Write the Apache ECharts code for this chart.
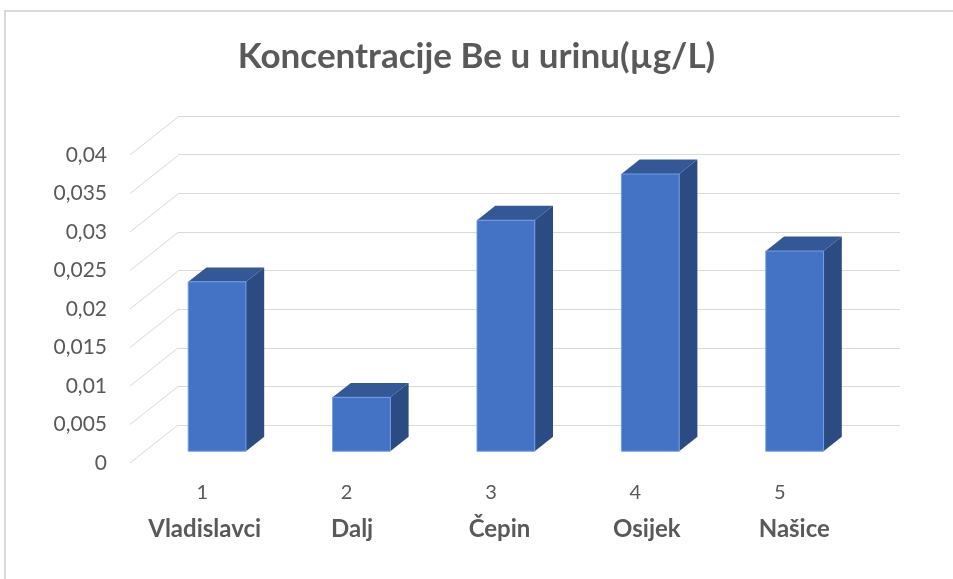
<!DOCTYPE html>
<html>
<head>
<meta charset="utf-8">
<script src="https://cdn.jsdelivr.net/npm/echarts@6/dist/echarts.min.js"></script>
<style>
  body { margin: 0; background: #fff; }
  #main { width: 953px; height: 579px; }
  #frame { position: absolute; left: 4px; top: 10px; width: 1000px; height: 1000px;
           border: 2px solid #d9d9d9; pointer-events: none; }
</style>
</head>
<body>
<div id="main"></div>
<div id="frame"></div>
<script>
// data
var catNumbers = ['1', '2', '3', '4', '5'];
var categories = ['Vladislavci', 'Dalj', 'Čepin', 'Osijek', 'Našice'];
var values = [0.022, 0.007, 0.030, 0.036, 0.026];
var yTicks = [0, 0.005, 0.01, 0.015, 0.02, 0.025, 0.03, 0.035, 0.04];
var yTickLabels = ['0', '0,005', '0,01', '0,015', '0,02', '0,025', '0,03', '0,035', '0,04'];

// fake 3D: depth offset of the back wall (px), bar sits between T1 and T2 of the depth
var DX = 48, DY = 38;
var T1 = 0.31, T2 = 0.69;
var textColor = '#595959';
var gridColor = '#d9d9d9';
var font = 'Lato';

var chart = echarts.init(document.getElementById('main'));

function renderBar(params, api) {
	var i = api.value(0), v = api.value(1);
	var base = api.coord([i, 0]);
	var top = api.coord([i, v]);
	var band = api.size([1, 0])[0];
	var w = band * 0.4;
	var x1 = base[0] - w / 2 + DX * T1, x2 = x1 + w;
	var yb = base[1] - DY * T1, yt = top[1] - DY * T1;
	var ddx = DX * (T2 - T1), ddy = DY * (T2 - T1);
	return {
		type : 'group',
		children : [ {
			type : 'polygon',
			shape : { points : [ [x2, yt], [x2 + ddx, yt - ddy], [x2 + ddx, yb - ddy], [x2, yb] ] },
			style : { fill : '#2b4b82' }
		}, {
			type : 'polygon',
			shape : { points : [ [x1, yt], [x1 + ddx, yt - ddy], [x2 + ddx, yt - ddy], [x2, yt] ] },
			style : { fill : '#335895' }
		}, {
			type : 'rect',
			shape : { x : x1, y : yt, width : w, height : yb - yt },
			style : { fill : '#4472c4', stroke : '#6f9fe6', lineWidth : 1 }
		} ]
	};
}

// diagonal lines from the front labels to the back wall
function renderDiag(params, api) {
	var cs = params.coordSys;
	var y = api.coord([0, api.value(1)])[1];
	return {
		type : 'line',
		shape : { x1 : cs.x, y1 : y, x2 : cs.x + DX, y2 : y - DY },
		style : { stroke : gridColor, lineWidth : 1 }
	};
}

var option = {
	backgroundColor : '#fff',
	title : {
		text : 'Koncentracije Be u urinu(µg/L)',
		left : 'center',
		top : 34,
		padding : [5, 0, 5, 12],
		textStyle : { fontFamily : font, fontSize : 35, fontWeight : 'bold', color : textColor }
	},
	grid : [
		{ left : 130, top : 155, width : 722, height : 308 },   // front plane
		{ left : 178, top : 116, width : 722, height : 309 },   // back wall
		{ left : 131, top : 155, width : 737, height : 308 }    // category names
	],
	xAxis : [ {
		type : 'category', gridIndex : 0, data : catNumbers,
		axisLine : { show : false }, axisTick : { show : false },
		axisLabel : { margin : 20, fontFamily : font, fontSize : 20, color : textColor }
	}, {
		type : 'category', gridIndex : 1, data : catNumbers,
		axisLine : { show : false }, axisTick : { show : false }, axisLabel : { show : false }
	}, {
		type : 'category', gridIndex : 2, data : categories,
		axisLine : { show : false }, axisTick : { show : false },
		axisLabel : { margin : 54, fontFamily : font, fontSize : 24, fontWeight : 'bold', color : textColor }
	} ],
	yAxis : [ {
		type : 'value', gridIndex : 0, min : 0, max : 0.04, interval : 0.005,
		axisLine : { show : false }, axisTick : { show : false }, splitLine : { show : false },
		axisLabel : {
			margin : 23, fontFamily : font, fontSize : 21, color : textColor,
			formatter : function (v, idx) { return yTickLabels[idx]; }
		}
	}, {
		type : 'value', gridIndex : 1, min : 0, max : 0.04, interval : 0.005,
		axisLine : { show : false }, axisTick : { show : false }, axisLabel : { show : false },
		splitLine : { show : true, lineStyle : { color : gridColor, width : 1 } }
	}, {
		type : 'value', gridIndex : 2, min : 0, max : 0.04, show : false
	} ],
	series : [ {
		type : 'custom',
		xAxisIndex : 0, yAxisIndex : 0,
		renderItem : renderDiag,
		data : yTicks.map(function (t) { return [0, t]; }),
		silent : true, z : 1
	}, {
		type : 'custom',
		xAxisIndex : 0, yAxisIndex : 0,
		renderItem : renderBar,
		data : values.map(function (v, i) { return [i, v]; }),
		z : 3
	} ]
};

chart.setOption(option);
</script>
</body>
</html>
